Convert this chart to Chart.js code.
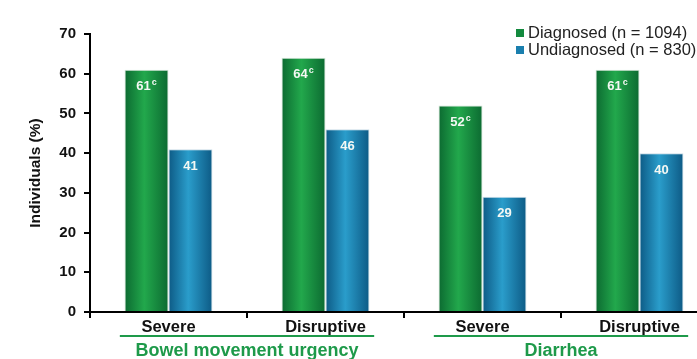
<!DOCTYPE html>
<html>
<head>
<meta charset="utf-8">
<script src="https://cdn.jsdelivr.net/npm/chart.js@4.4.1/dist/chart.umd.min.js"></script>
<style>
  html, body { margin: 0; padding: 0; background: #fff; overflow: hidden; }
  #wrap { position: relative; width: 720px; height: 359px; }
</style>
</head>
<body>
<div id="wrap"><canvas id="c" width="720" height="359"></canvas></div>
<script>
// Categories, grouped by symptom
const categories = ['Severe', 'Disruptive', 'Severe', 'Disruptive'];
const groups = ['Bowel movement urgency', 'Diarrhea'];
const seriesNames = ['Diagnosed (n = 1094)', 'Undiagnosed (n = 830)'];
const diagnosed = [61, 64, 52, 61];
const undiagnosed = [41, 46, 29, 40];
const diagnosedMark = ['c', 'c', 'c', 'c'];
const undiagnosedMark = ['', '', '', ''];
const yTicks = [0, 10, 20, 30, 40, 50, 60, 70];

const FONT = '"Liberation Sans", Arial, sans-serif';
const GREEN_TEXT = '#1e9a4a';

function barGradient(ctx, dark, light) {
  const chart = ctx.chart;
  const xs = chart.scales && chart.scales.x;
  if (!xs || !chart.chartArea || ctx.dataIndex === undefined) return light;
  const center = xs.getPixelForValue(ctx.dataIndex);
  const catW = (xs.right - xs.left) / categories.length;
  const bw = catW * 0.56 / 2;
  const left = ctx.datasetIndex === 0 ? center - bw : center;
  const g = chart.ctx.createLinearGradient(left, 0, left + bw, 0);
  g.addColorStop(0, dark);
  g.addColorStop(0.45, light);
  g.addColorStop(1, dark);
  return g;
}

// Value labels inside the bars, with optional superscript note
const valueLabels = {
  id: 'valueLabels',
  afterDatasetsDraw(chart) {
    const c = chart.ctx;
    const marks = [diagnosedMark, undiagnosedMark];
    chart.data.datasets.forEach((ds, di) => {
      const meta = chart.getDatasetMeta(di);
      meta.data.forEach((bar, i) => {
        const txt = String(ds.data[i]);
        const sup = marks[di][i];
        c.save();
        c.fillStyle = '#f4f8f4';
        c.font = 'bold 13px ' + FONT;
        const w1 = c.measureText(txt).width;
        c.font = 'bold 9px ' + FONT;
        const w2 = sup ? c.measureText(sup).width + 1 : 0;
        const x0 = bar.x - (w1 + w2) / 2;
        const y = bar.y + 17;
        c.textBaseline = 'middle';
        c.textAlign = 'left';
        c.font = 'bold 13px ' + FONT;
        c.fillText(txt, x0, y);
        if (sup) {
          c.font = 'bold 9px ' + FONT;
          c.fillText(sup, x0 + w1 + 1, y - 4);
        }
        c.restore();
      });
    });
  }
};

// Group captions with underline below the category labels
const groupLabels = {
  id: 'groupLabels',
  afterDraw(chart) {
    const c = chart.ctx;
    const xs = chart.scales.x;
    const catW = (xs.right - xs.left) / categories.length;
    groups.forEach((name, gi) => {
      const a = xs.getPixelForValue(gi * 2);
      const b = xs.getPixelForValue(gi * 2 + 1);
      const x1 = a - catW * 0.31;
      const x2 = b + catW * 0.31;
      c.save();
      c.strokeStyle = GREEN_TEXT;
      c.lineWidth = 2;
      c.beginPath();
      c.moveTo(x1, 336);
      c.lineTo(x2, 336);
      c.stroke();
      c.fillStyle = GREEN_TEXT;
      c.font = 'bold 18px ' + FONT;
      c.textAlign = 'center';
      c.textBaseline = 'middle';
      c.fillText(name, (a + b) / 2, 351);
      c.restore();
    });
  }
};

// Legend in the top-right corner
const cornerLegend = {
  id: 'cornerLegend',
  afterDraw(chart) {
    const c = chart.ctx;
    const colors = ['#138a3e', '#1a7fae'];
    seriesNames.forEach((name, i) => {
      const y = 33 + i * 17;
      c.save();
      c.fillStyle = colors[i];
      c.fillRect(516, y - 4, 8, 8);
      c.fillStyle = '#222';
      c.font = '16.5px ' + FONT;
      c.textBaseline = 'middle';
      c.fillText(name, 528, y);
      c.restore();
    });
  }
};

new Chart(document.getElementById('c'), {
  type: 'bar',
  data: {
    labels: categories,
    datasets: [
      {
        label: seriesNames[0],
        data: diagnosed,
        backgroundColor: ctx => barGradient(ctx, '#0c6a31', '#22a84c'),
        borderColor: 'rgba(190,215,195,0.7)',
        borderWidth: 1,
        categoryPercentage: 0.56,
        barPercentage: 1
      },
      {
        label: seriesNames[1],
        data: undiagnosed,
        backgroundColor: ctx => barGradient(ctx, '#0d5a85', '#2a9dcb'),
        borderColor: 'rgba(180,205,220,0.7)',
        borderWidth: 1,
        categoryPercentage: 0.56,
        barPercentage: 1
      }
    ]
  },
  options: {
    responsive: false,
    animation: false,
    layout: { padding: { top: 34, right: 2, left: 0, bottom: 0 } },
    plugins: {
      legend: { display: false },
      tooltip: { enabled: false }
    },
    scales: {
      x: {
        grid: { offset: true, drawOnChartArea: false, tickLength: 6, color: '#000', lineWidth: 2 },
        border: { color: '#000', width: 2 },
        ticks: {
          color: '#111',
          font: { family: FONT, size: 16.5, weight: 'bold' },
          padding: 0
        },
        afterFit(scale) { scale.height = 47; }
      },
      y: {
        min: 0,
        max: 70,
        afterBuildTicks(scale) { scale.ticks = yTicks.map(v => ({ value: v })); },
        grid: { drawOnChartArea: false, tickLength: 6, color: '#000', lineWidth: 2 },
        border: { color: '#000', width: 2 },
        ticks: {
          color: '#111',
          font: { family: FONT, size: 15, weight: 'bold' },
          padding: 8
        },
        title: {
          display: true,
          text: 'Individuals (%)',
          color: '#111',
          font: { family: FONT, size: 15.5, weight: 'bold' },
          padding: { top: 26, bottom: 0 }
        },
        afterFit(scale) { scale.width = 90; }
      }
    }
  },
  plugins: [valueLabels, groupLabels, cornerLegend]
});
</script>
</body>
</html>
